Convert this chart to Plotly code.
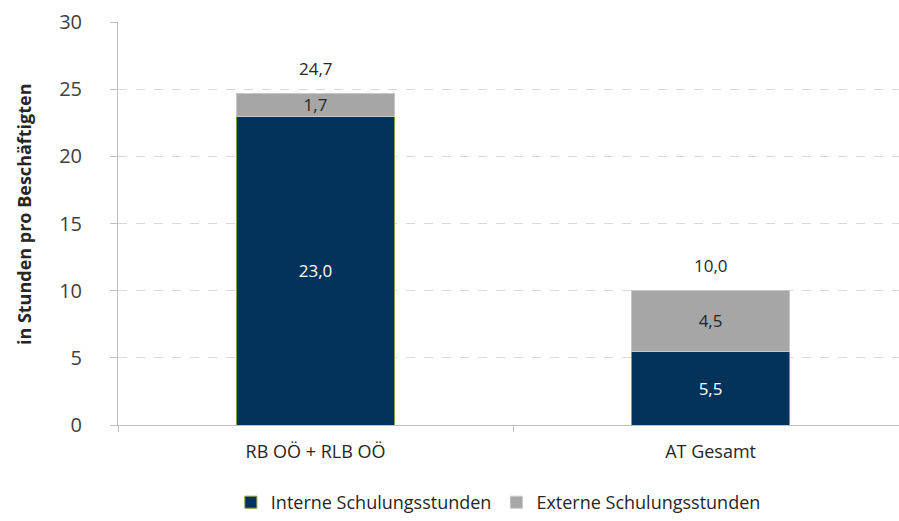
import plotly.graph_objects as go

# Schulungsstunden je Beschäftigten
categories = ["RB OÖ + RLB OÖ", "AT Gesamt"]
interne = [23.0, 5.5]
externe = [1.7, 4.5]
totals = [round(a + b, 1) for a, b in zip(interne, externe)]

navy = "#00325a"
grey = "#a6a6a6"
font_family = "Open Sans, Lato, sans-serif"

fig = go.Figure()
fig.add_trace(go.Bar(
    x=categories, y=interne, name="Interne Schulungsstunden",
    marker=dict(color=navy, line=dict(color="#8c9a4a", width=1)),
    width=0.4, constraintext="none",
    texttemplate="%{y:.1f}", textposition="inside", insidetextanchor="middle",
    textfont=dict(color="white", size=17, family=font_family),
))
fig.add_trace(go.Bar(
    x=categories, y=externe, name="Externe Schulungsstunden",
    marker=dict(color=grey, line=dict(color="#c8c8c8", width=1)),
    width=0.4, constraintext="none",
    texttemplate="%{y:.1f}", textposition="inside", insidetextanchor="middle",
    textfont=dict(color="#262626", size=17, family=font_family),
))

# Summenbeschriftung über den Säulen
total_labels = [
    dict(x=c, y=t, text=f"{t:.1f}".replace(".", ","), xref="x", yref="y",
         showarrow=False, yanchor="middle", yshift=25,
         font=dict(size=17, color="#262626", family=font_family))
    for c, t in zip(categories, totals)
]

fig.update_layout(
    barmode="stack",
    width=899, height=521,
    margin=dict(l=118, r=0, t=22, b=96, autoexpand=False),
    paper_bgcolor="white", plot_bgcolor="white",
    separators=",.",
    font=dict(family=font_family, color="#262626"),
    legend=dict(
        orientation="h", x=0.487, xanchor="center",
        yref="container", y=0.0, yanchor="bottom",
        font=dict(size=18, color="#262626"), itemwidth=30, traceorder="normal",
    ),
    annotations=total_labels + [dict(
        text="<b>in Stunden pro Beschäftigten</b>", textangle=-90,
        xref="paper", yref="paper", x=-0.12, y=0.524,
        xanchor="center", yanchor="middle", showarrow=False,
        font=dict(size=18, color="#262626"),
    )],
)
fig.update_xaxes(
    type="category", range=[-0.5, 1.477],
    showline=True, linecolor="#bfbfbf", linewidth=1,
    ticks="outside", tickson="boundaries", ticklen=6, tickcolor="#bfbfbf",
    ticklabelstandoff=10,
    tickfont=dict(size=18, color="#262626"), showgrid=False,
)
fig.update_yaxes(
    range=[0, 30], tickvals=[0, 5, 10, 15, 20, 25, 30],
    showline=True, linecolor="#bfbfbf", linewidth=1,
    ticks="outside", ticklen=7, tickcolor="#bfbfbf",
    showgrid=True, gridcolor="#d9d9d9", griddash="dash", gridwidth=1,
    zeroline=False, ticklabelstandoff=24,
    tickfont=dict(size=20, color="#404040"),
)

fig.write_html("out.html")
